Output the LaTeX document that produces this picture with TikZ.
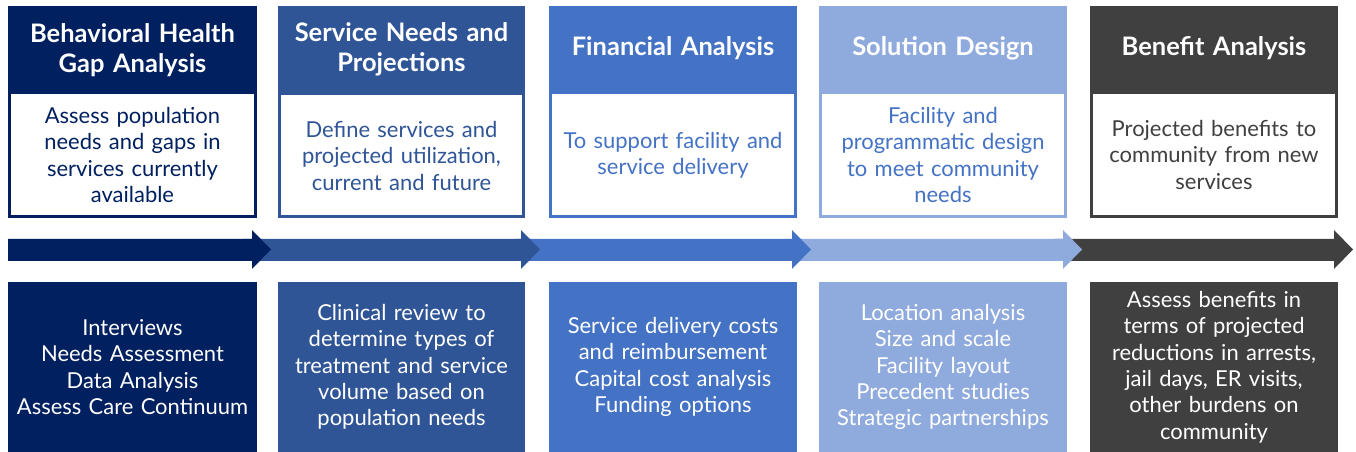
\documentclass[tikz,border=0pt]{standalone}
\usepackage{fontspec}
\setmainfont{Lato}
\usetikzlibrary{positioning}

\definecolor{navy}{HTML}{002060}
\definecolor{midblue}{HTML}{2F5597}
\definecolor{blue}{HTML}{4472C4}
\definecolor{paleblue}{HTML}{8FAADC}
\definecolor{charcoal}{HTML}{404040}

\tikzset{
  title/.style={text=white, font=\bfseries\fontsize{14.5}{17}\selectfont, align=center, text width=4.7cm, inner sep=0pt},
  body/.style={font=\fontsize{12.5}{15}\selectfont, align=center, text width=4.7cm, inner sep=0pt},
  lower/.style={body, text=white},
}

% one phase: outer box, white panel
\newcommand{\phasebox}[4]{% left, right, band bottom, colour
  \fill[#4] (#1,6) rectangle (#2,218);
  \fill[white] (#1+3,#3) rectangle (#2-3,215);
  \fill[#4] (#1,282) rectangle (#2,452);
}
% block arrow from start to tip
\newcommand{\blockarrow}[3]{%
  \fill[#3] (#1,239) -- (#2-19,239) -- (#2-19,230) -- (#2,249.5) -- (#2-19,269) -- (#2-19,261) -- (#1,261) -- cycle;
}

\begin{document}
\begin{tikzpicture}[x=0.02cm, y=-0.02cm]
    \useasboundingbox (0,0) rectangle (1356,452);
    % boxes:
    \phasebox{8}{257}{94}{navy}
    \phasebox{278}{525}{95}{midblue}
    \phasebox{549}{797}{94}{blue}
    \phasebox{819}{1067}{94}{paleblue}
    \phasebox{1090}{1338}{94}{charcoal}
    % arrows:
    \blockarrow{1055}{1353}{charcoal}
    \blockarrow{785}{1082}{paleblue}
    \blockarrow{515}{811}{blue}
    \blockarrow{243}{540}{midblue}
    \blockarrow{8}{271}{navy}
    % titles:
    \node[title] (gaptitle) at (132.5,50) {Behavioral Health\\Gap Analysis};
    \node[title] (needtitle) at (401.5,49) {Service Needs and\\Projections};
    \node[title] (fintitle) at (673,48) {Financial Analysis};
    \node[title] (soltitle) at (943,48) {Solution Design};
    \node[title] (bentitle) at (1214,48) {Benefit Analysis};
    % panels:
    \node[body, text=navy] (gapbody) at (132.5,155) {Assess population\\needs and gaps in\\services currently\\available};
    \node[body, text=midblue] (needbody) at (401.5,156) {Define services and\\projected utilization,\\current and future};
    \node[body, text=blue] (finbody) at (673,155) {To support facility and\\service delivery};
    \node[body, text=blue] (solbody) at (943,155) {Facility and\\programmatic design\\to meet community\\needs};
    \node[body, text=charcoal] (benbody) at (1214,155) {Projected benefits to\\community from new\\services};
    % lower boxes:
    \node[lower] (gaplow) at (132.5,367) {Interviews\\Needs Assessment\\Data Analysis\\Assess Care Continuum};
    \node[lower] (needlow) at (401.5,367) {Clinical review to\\determine types of\\treatment and service\\volume based on\\population needs};
    \node[lower] (finlow) at (673,367) {Service delivery costs\\and reimbursement\\Capital cost analysis\\Funding options};
    \node[lower] (sollow) at (943,367) {Location analysis\\Size and scale\\Facility layout\\Precedent studies\\Strategic partnerships};
    \node[lower] (benlow) at (1214,367) {Assess benefits in\\terms of projected\\reductions in arrests,\\jail days, ER visits,\\other burdens on\\community};
\end{tikzpicture}
\end{document}
